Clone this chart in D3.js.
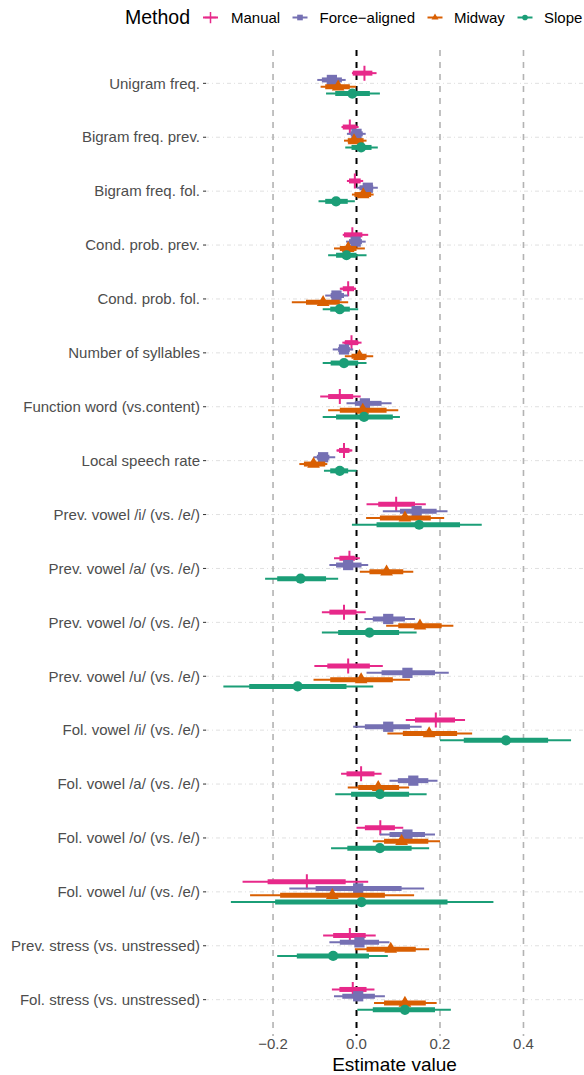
<!DOCTYPE html>
<html><head><meta charset="utf-8">
<script src="https://cdn.jsdelivr.net/npm/d3@7/dist/d3.min.js"></script>
<style>body{margin:0;background:#fff} svg{display:block;font-family:"Liberation Sans",Arial,Helvetica,sans-serif}</style>
</head><body><svg id="c" width="584" height="1075"></svg>
<script>
const categories = ["Unigram freq.","Bigram freq. prev.","Bigram freq. fol.","Cond. prob. prev.","Cond. prob. fol.","Number of syllables","Function word (vs.content)","Local speech rate","Prev. vowel /i/ (vs. /e/)","Prev. vowel /a/ (vs. /e/)","Prev. vowel /o/ (vs. /e/)","Prev. vowel /u/ (vs. /e/)","Fol. vowel /i/ (vs. /e/)","Fol. vowel /a/ (vs. /e/)","Fol. vowel /o/ (vs. /e/)","Fol. vowel /u/ (vs. /e/)","Prev. stress (vs. unstressed)","Fol. stress (vs. unstressed)"];
const methods = ["Manual","Force\u2212aligned","Midway","Slope"];
const colors = ["#E7298A","#7570B3","#D95F02","#1B9E77"];
const shapes = ["plus","square","triangle","circle"];
const xTicks = [-0.2,0,0.2,0.4];
const xTickLabels = ["\u22120.2","0.0","0.2","0.4"];
// each row: [estimate, thickLo, thickHi, thinLo, thinHi]
const manual = [
[0.019,-0.009,0.038,-0.011,0.048],[-0.016,-0.033,0.000,-0.036,0.005],[-0.004,-0.018,0.010,-0.023,0.016],
[-0.010,-0.030,0.014,-0.033,0.028],[-0.020,-0.033,-0.006,-0.040,-0.001],[-0.012,-0.028,0.004,-0.034,0.012],
[-0.040,-0.068,-0.008,-0.087,0.010],[-0.030,-0.042,-0.017,-0.047,-0.010],[0.095,0.052,0.140,0.024,0.166],
[-0.017,-0.041,-0.004,-0.054,0.008],[-0.030,-0.065,0.000,-0.083,0.022],[-0.020,-0.070,0.032,-0.101,0.063],
[0.190,0.140,0.236,0.118,0.260],[0.011,-0.024,0.043,-0.037,0.060],[0.057,0.020,0.092,0.000,0.112],
[-0.119,-0.213,-0.026,-0.273,0.028],[-0.016,-0.056,0.022,-0.080,0.046],[-0.009,-0.041,0.024,-0.059,0.043]];
const forceAligned = [
[-0.059,-0.083,-0.035,-0.094,-0.026],[0.000,-0.014,0.015,-0.023,0.022],[0.027,0.007,0.040,0.000,0.051],
[-0.002,-0.018,0.013,-0.025,0.022],[-0.048,-0.062,-0.030,-0.075,-0.020],[-0.030,-0.044,-0.016,-0.057,-0.008],
[0.020,-0.004,0.060,-0.024,0.084],[-0.080,-0.095,-0.065,-0.103,-0.051],[0.144,0.104,0.192,0.063,0.218],
[-0.020,-0.049,0.012,-0.065,0.028],[0.076,0.039,0.116,0.019,0.140],[0.122,0.060,0.188,0.024,0.221],
[0.076,0.020,0.128,-0.008,0.156],[0.136,0.099,0.172,0.079,0.194],[0.122,0.079,0.164,0.056,0.188],
[0.004,-0.098,0.108,-0.161,0.162],[0.007,-0.040,0.054,-0.065,0.079],[0.004,-0.034,0.044,-0.054,0.068]];
const midway = [
[-0.044,-0.075,-0.016,-0.086,-0.001],[-0.006,-0.021,0.017,-0.030,0.024],[0.016,-0.005,0.035,-0.011,0.041],
[-0.020,-0.040,0.000,-0.054,0.020],[-0.080,-0.121,-0.040,-0.155,-0.020],[0.007,-0.012,0.024,-0.028,0.040],
[0.015,-0.040,0.072,-0.068,0.100],[-0.103,-0.126,-0.075,-0.137,-0.070],[0.116,0.056,0.178,0.023,0.210],
[0.072,0.031,0.112,0.008,0.136],[0.152,0.100,0.204,0.071,0.232],[0.011,-0.063,0.087,-0.103,0.128],
[0.174,0.111,0.241,0.074,0.277],[0.052,0.004,0.102,-0.021,0.126],[0.108,0.066,0.172,0.039,0.200],
[-0.058,-0.183,0.068,-0.255,0.138],[0.082,0.024,0.142,-0.004,0.174],[0.116,0.066,0.166,0.042,0.192]];
const slope = [
[-0.010,-0.051,0.032,-0.073,0.056],[0.011,-0.012,0.036,-0.027,0.051],[-0.049,-0.075,-0.021,-0.091,-0.004],
[-0.024,-0.049,0.000,-0.068,0.024],[-0.040,-0.063,-0.016,-0.081,0.004],[-0.030,-0.062,0.004,-0.081,0.024],
[0.018,-0.049,0.087,-0.081,0.104],[-0.040,-0.063,-0.020,-0.078,0.000],[0.150,0.048,0.248,-0.011,0.300],
[-0.134,-0.190,-0.073,-0.219,-0.044],[0.031,-0.044,0.102,-0.083,0.144],[-0.141,-0.257,-0.024,-0.319,0.040],
[0.358,0.257,0.459,0.200,0.514],[0.056,-0.013,0.126,-0.051,0.168],[0.056,-0.022,0.132,-0.061,0.174],
[0.012,-0.195,0.218,-0.301,0.328],[-0.056,-0.143,0.030,-0.190,0.075],[0.116,0.039,0.188,0.002,0.226]];
const seriesData = [manual, forceAligned, midway, slope];

(function () {
const svg = d3.select("#c");
const pLeft = 205, pRight = 584, pTop = 51, pBottom = 1032;
const x = d3.scaleLinear().domain([-0.363, 0.545]).range([pLeft, pRight]);
const y = d3.scalePoint().domain(categories).range([pTop, pBottom]).padding(0.6);
const dodge = d3.scalePoint().domain(methods).range([-10.2, 10.2]);

// horizontal grid
svg.append("g").selectAll("line").data(categories).join("line")
  .attr("x1", pLeft).attr("x2", pRight)
  .attr("y1", d => y(d)).attr("y2", d => y(d))
  .attr("stroke", "#e0e0e0").attr("stroke-width", 1)
  .attr("stroke-dasharray", "4,3,1,3");

// vertical reference lines
svg.append("g").selectAll("line").data(xTicks).join("line")
  .attr("x1", d => x(d)).attr("x2", d => x(d))
  .attr("y1", 50).attr("y2", 1036)
  .attr("stroke", d => d === 0 ? "#000" : "#b3b3b3")
  .attr("stroke-width", d => d === 0 ? 2 : 1.6)
  .attr("stroke-dasharray", "6,6");

// y axis labels & ticks
const yAxis = svg.append("g");
yAxis.selectAll("line").data(categories).join("line")
  .attr("x1", 203).attr("x2", 206).attr("y1", d => y(d)).attr("y2", d => y(d))
  .attr("stroke", "#333").attr("stroke-width", 1);
yAxis.selectAll("text").data(categories).join("text")
  .attr("x", 200).attr("y", d => y(d)).attr("dy", "0.35em")
  .attr("text-anchor", "end").attr("font-size", 15).attr("fill", "#4d4d4d")
  .text(d => d);

// x axis labels
svg.append("g").selectAll("text").data(xTicks).join("text")
  .attr("x", d => x(d)).attr("y", 1049)
  .attr("text-anchor", "middle").attr("font-size", 15).attr("fill", "#4d4d4d")
  .text((d, i) => xTickLabels[i]);
svg.append("text").attr("x", (pLeft + pRight) / 2).attr("y", 1070.5)
  .attr("text-anchor", "middle").attr("font-size", 19).attr("fill", "#000")
  .text("Estimate value");

function drawShape(g, shape, cx, cy, color, scale) {
  if (shape === "plus") {
    const h = 7.5 * scale;
    g.append("path").attr("d", `M${cx - h},${cy}H${cx + h}M${cx},${cy - h}V${cy + h}`)
      .attr("stroke", color).attr("stroke-width", 2 * Math.max(scale, 0.75)).attr("fill", "none");
  } else {
    const type = shape === "square" ? d3.symbolSquare : shape === "triangle" ? d3.symbolTriangle : d3.symbolCircle;
    const size = (shape === "square" ? 105 : shape === "triangle" ? 70 : 82) * scale * scale;
    g.append("path").attr("d", d3.symbol().type(type).size(size)())
      .attr("transform", `translate(${cx},${cy})`).attr("fill", color);
  }
}

// marks
const marks = svg.append("g");
categories.forEach((cat, ci) => {
  methods.forEach((m, mi) => {
    const r = seriesData[mi][ci];
    const yy = y(cat) + dodge(m);
    const g = marks.append("g");
    g.append("line").attr("x1", x(r[3])).attr("x2", x(r[4])).attr("y1", yy).attr("y2", yy)
      .attr("stroke", colors[mi]).attr("stroke-width", 2);
    g.append("line").attr("x1", x(r[1])).attr("x2", x(r[2])).attr("y1", yy).attr("y2", yy)
      .attr("stroke", colors[mi]).attr("stroke-width", 5);
    drawShape(g, shapes[mi], x(r[0]), yy, colors[mi], 1);
  });
});

// legend
const lg = svg.append("g");
lg.append("text").attr("x", 125).attr("y", 24).attr("font-size", 19.5).attr("fill", "#000").text("Method");
const keyX = [210.5, 300, 435, 525];
const labX = [231, 319.5, 454, 544];
methods.forEach((m, i) => {
  lg.append("line").attr("x1", keyX[i] - 7.5).attr("x2", keyX[i] + 7.5).attr("y1", 17.5).attr("y2", 17.5)
    .attr("stroke", colors[i]).attr("stroke-width", 2);
  drawShape(lg, shapes[i], keyX[i], 17.5, colors[i], shapes[i] === "plus" ? 0.75 : 0.55);
  lg.append("text").attr("x", labX[i]).attr("y", 23).attr("font-size", 15).attr("fill", "#000").text(m);
});
})();
</script></body></html>
